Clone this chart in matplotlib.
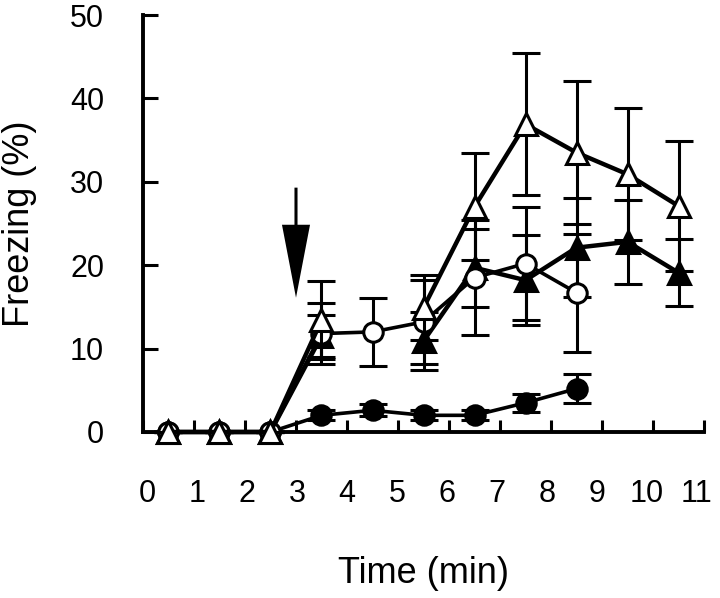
import numpy as np
import matplotlib
matplotlib.use("Agg")
import matplotlib.pyplot as plt
from matplotlib.patches import FancyArrow

plt.rcParams['font.family'] = ['Liberation Sans', 'DejaVu Sans']

# Data
time_tri = [0.5, 1.5, 2.5, 3.5, 4.5, 5.5, 6.5, 7.5, 8.5, 9.5, 10.5]
open_tri = [0, 0, 0, 13.4, np.nan, 14.9, 27.0, 36.9, 33.5, 30.9, 27.1]
open_tri_err = [0, 0, 0, 4.7, np.nan, 3.9, 6.4, 8.5, 8.6, 7.9, 7.8]
filled_tri = [0, 0, 0, 11.5, np.nan, 10.9, 19.7, 18.2, 22.1, 22.8, 19.1]
filled_tri_err = [0, 0, 0, 2.5, np.nan, 3.5, 4.7, 5.4, 5.9, 5.0, 4.0]

time_circ = [0.5, 1.5, 2.5, 3.5, 4.5, 5.5, 6.5, 7.5, 8.5]
open_circ = [0, 0, 0, 11.8, 12.0, 13.2, 18.5, 20.2, 16.7]
open_circ_err = [0, 0, 0, 3.7, 4.1, 5.0, 6.9, 6.8, 7.1]
filled_circ = [0, 0, 0, 2.0, 2.6, 2.0, 2.0, 3.5, 5.2]
filled_circ_err = [0, 0, 0, 0.6, 0.7, 0.6, 0.6, 1.1, 1.7]

x_ticks = list(range(0, 12))
x_labels = [str(v) for v in x_ticks]
y_ticks = [0, 10, 20, 30, 40, 50]
arrow_x = 3.0
arrow_from = 29.3
arrow_to = 16.1

fig = plt.figure(figsize=(7.2, 5.98), dpi=100)
ax = fig.add_axes([0.1986, 0.2776, 0.9778 - 0.1986, 0.9749 - 0.2776])

cap = 10
elw = 2.2

def series(x, y, e, marker, face, ms, lw, z):
    ax.errorbar(x, y, yerr=e, fmt='-', color='black', lw=lw,
                marker=marker, markersize=ms, markerfacecolor=face,
                markeredgecolor='black', markeredgewidth=2.2,
                ecolor='black', elinewidth=elw, capsize=cap, capthick=elw,
                zorder=z, clip_on=False)

series(time_circ, filled_circ, filled_circ_err, 'o', 'black', 14, 2.6, 3)
series(time_tri, filled_tri, filled_tri_err, '^', 'black', 16, 3.2, 4)
series(time_circ, open_circ, open_circ_err, 'o', 'white', 14, 2.6, 5)
series(time_tri, open_tri, open_tri_err, '^', 'white', 16, 3.2, 6)

ax.add_patch(FancyArrow(arrow_x, arrow_from, 0, arrow_to - arrow_from,
                        width=0.06, head_width=0.55, head_length=8.75,
                        length_includes_head=True, color='black', lw=0,
                        zorder=7))

ax.set_xlim(0, 11)
ax.set_ylim(0, 50)
# tick marks at integers; labels drawn slightly compressed as in the original
ax.xaxis.remove_overlapping_locs = False
ax.set_xticks(x_ticks)
ax.set_xticklabels([])
label_pos = [0.08 + 0.98 * v for v in x_ticks]
ax.set_xticks(label_pos, minor=True)
ax.set_xticklabels(x_labels, minor=True)
ax.set_yticks(y_ticks)
ax.spines['top'].set_visible(False)
ax.spines['right'].set_visible(False)
for s in ('left', 'bottom'):
    ax.spines[s].set_linewidth(2.8)
ax.tick_params(axis='x', which='major', direction='in', length=9, width=2.2)
ax.tick_params(axis='x', which='minor', direction='in', length=0, pad=34, labelsize=22)
ax.tick_params(axis='y', direction='in', length=11, width=2.2, pad=28, labelsize=22)

ax.set_xlabel('Time (min)', fontsize=26)
ax.set_ylabel('Freezing (%)', fontsize=26)
ax.xaxis.label.set_va('center')
ax.yaxis.label.set_va('center')
ax.xaxis.set_label_coords(0.5, -0.34)
ax.yaxis.set_label_coords(-0.221, 0.5)

fig.savefig('out.png', dpi=100)
